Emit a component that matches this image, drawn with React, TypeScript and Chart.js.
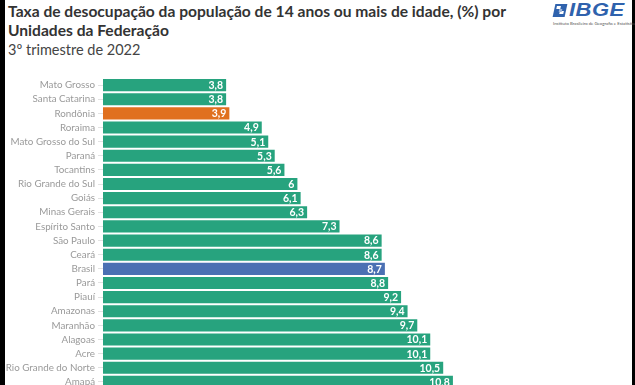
import React, { useEffect, useRef } from "react";
import { Chart, registerables } from "chart.js";

Chart.register(...registerables);

const categories = [
  "Mato Grosso", "Santa Catarina", "Rondônia", "Roraima", "Mato Grosso do Sul",
  "Paraná", "Tocantins", "Rio Grande do Sul", "Goiás", "Minas Gerais",
  "Espírito Santo", "São Paulo", "Ceará", "Brasil", "Pará", "Piauí",
  "Amazonas", "Maranhão", "Alagoas", "Acre", "Rio Grande do Norte", "Amapá",
];
const values = [3.8, 3.8, 3.9, 4.9, 5.1, 5.3, 5.6, 6, 6.1, 6.3, 7.3, 8.6, 8.6, 8.7, 8.8, 9.2, 9.4, 9.7, 10.1, 10.1, 10.5, 10.8];
const highlightOrange = ["Rondônia"];
const highlightBlue = ["Brasil"];

const GREEN = "#27a37e";
const ORANGE = "#e0701f";
const BLUE = "#4b70b3";
const FONT = "Lato, 'Noto Sans', sans-serif";

const valueLabels = {
  id: "valueLabels",
  afterDatasetsDraw(chart: any) {
    const ctx = chart.ctx;
    const meta = chart.getDatasetMeta(0);
    ctx.save();
    ctx.font = `bold 10.5px ${FONT}`;
    ctx.fillStyle = "#ffffff";
    ctx.textAlign = "right";
    ctx.textBaseline = "middle";
    meta.data.forEach((bar: any, i: number) => {
      const txt = String(values[i]).replace(".", ",");
      ctx.fillText(txt, bar.x - 3, bar.y + 0.5);
    });
    ctx.restore();
  },
};

function BarChart() {
  const ref = useRef<HTMLCanvasElement>(null);
  useEffect(() => {
    if (!ref.current) return;
    const colors = categories.map((c) =>
      highlightOrange.includes(c) ? ORANGE : highlightBlue.includes(c) ? BLUE : GREEN
    );
    const chart = new Chart(ref.current, {
      type: "bar",
      data: {
        labels: categories,
        datasets: [
          {
            data: values,
            backgroundColor: colors,
            borderWidth: 0,
            categoryPercentage: 1,
            barPercentage: 0.86,
          },
        ],
      },
      options: {
        indexAxis: "y",
        animation: false,
        responsive: false,
        maintainAspectRatio: false,
        layout: { padding: { left: 0, right: 46, top: 0, bottom: 0 } },
        plugins: { legend: { display: false }, tooltip: { enabled: false }, title: { display: false } },
        scales: {
          x: { display: false, min: 0, max: 15 },
          y: {
            afterFit(scale: any) {
              scale.width = 103;
              scale.paddingTop = 0;
              scale.paddingBottom = 0;
            },
            border: { display: false },
            grid: {
              display: true,
              drawOnChartArea: false,
              drawTicks: true,
              tickLength: 5,
              offset: false,
              color: "#e2e2e2",
            },
            ticks: {
              color: "#9a9a9a",
              padding: 3,
              font: { family: FONT, size: 9.8 },
              autoSkip: false,
            },
          },
        },
      },
      plugins: [valueLabels],
    });
    return () => chart.destroy();
  }, []);
  return (
    <canvas
      ref={ref}
      width={635}
      height={311}
      style={{ position: "absolute", left: 0, top: 78, width: 635, height: 311 }}
    />
  );
}

export default function App() {
  return (
    <div style={{ position: "fixed", left: 0, top: 0, width: 635, height: 385, background: "#000", overflow: "hidden" }}>
      <div style={{ position: "absolute", left: 5, top: 0, width: 627, height: 400, background: "#fff" }} />
      <div
        style={{
          position: "absolute",
          left: 8,
          top: 2,
          fontFamily: FONT,
          color: "#333",
          fontWeight: 700,
          fontSize: 15.6,
          lineHeight: "19px",
          whiteSpace: "nowrap",
        }}
      >
        <div>Taxa de desocupação da população de 14 anos ou mais de idade, (%) por</div>
        <div>Unidades da Federação</div>
        <div style={{ fontWeight: 400, fontSize: 14.5, color: "#444", marginTop: 0 }}>
          3º trimestre de 2022
        </div>
      </div>
      <div style={{ position: "absolute", left: 550, top: 2, width: 82, height: 28 }}>
        <div style={{ position: "absolute", left: 4, top: 2, width: 12, height: 13, background: "#2f62ad", transform: "skewX(-12deg)" }}>
          <div style={{ position: "absolute", left: 2, top: 2, width: 4, height: 3, background: "#fff" }} />
          <div style={{ position: "absolute", left: 6, top: 7, width: 4, height: 3, background: "#fff" }} />
          <div style={{ position: "absolute", left: 5, top: 5, width: 3, height: 3, background: "#9db5dc" }} />
        </div>
        <div
          style={{
            position: "absolute",
            left: 19,
            top: -2,
            fontFamily: "'Liberation Sans', Arial, sans-serif",
            fontStyle: "italic",
            fontWeight: 700,
            fontSize: 22,
            color: "#2f62ad",
            letterSpacing: 0.5,
            transform: "scaleY(0.82)",
            transformOrigin: "top left",
          }}
        >
          IBGE
        </div>
        <div
          style={{
            position: "absolute",
            left: 3,
            top: 19,
            fontFamily: FONT,
            fontSize: 4.3,
            color: "#555",
            whiteSpace: "nowrap",
          }}
        >
          Instituto Brasileiro de Geografia e Estatística
        </div>
      </div>
      <BarChart />
    </div>
  );
}
